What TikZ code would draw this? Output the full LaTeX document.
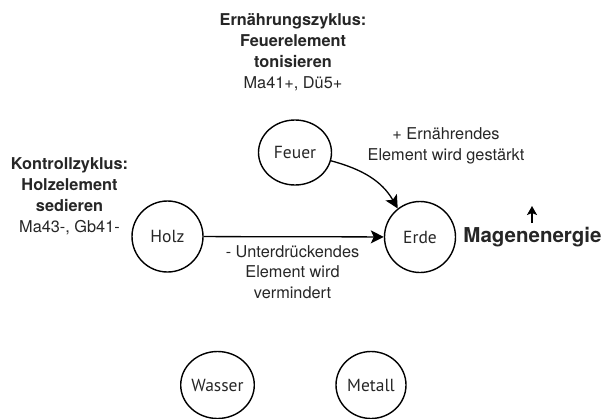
\documentclass[tikz,border=0pt]{standalone}
\usepackage{fontspec}
\setmainfont{TeX Gyre Heros}
\newfontfamily\myriadlike{PT Sans}
\usetikzlibrary{arrows.meta,shapes.geometric}
\begin{document}
\begin{tikzpicture}[x=1pt,y=-1pt,
  elem/.style={ellipse,draw,line width=1.4pt,minimum width=71pt,minimum height=71pt,inner sep=0pt,text=black!85,font=\myriadlike\fontsize{17.5}{20}\selectfont},
  lbl/.style={align=center,text=black!85,font=\fontsize{16.3}{21}\selectfont,inner sep=0pt},
  conn/.style={line width=1.3pt,-{Stealth[length=13pt,width=13pt,inset=3pt]}}]
\useasboundingbox (0,0) rectangle (605,418);
\node[elem,minimum width=73pt,minimum height=65pt] (feuer) at (295,152.5) {Feuer};
\node[elem] (erde) at (420,237) {Erde};
\node[elem] (holz) at (167.5,236.5) {Holz};
\node[elem,minimum width=70pt,minimum height=67pt] (wasser) at (217.5,385) {Wasser};
\node[elem,minimum width=70pt,minimum height=67pt] (metall) at (371,385) {Metall};
\draw[conn] (holz) -- (erde);
\draw[conn] (feuer.-13) to[out=-15,in=120] (erde.128);
\node[lbl] (ern) at (293,52) {\textbf{Ernährungszyklus:}\\\textbf{Feuerelement}\\\textbf{tonisieren}\\Ma41+, Dü5+};
\node[lbl] (kon) at (69.5,196) {\textbf{Kontrollzyklus:}\\\textbf{Holzelement}\\\textbf{sedieren}\\Ma43-, Gb41-};
\node[lbl] (plus) at (446,146) {+ Ernährendes\\Element wird gestärkt};
\node[lbl,font=\fontsize{16.3}{20.5}\selectfont] (minus) at (292.5,272) {- Unterdrückendes\\Element wird\\vermindert};
\node[text=black!85,font=\bfseries\fontsize{20.5}{23}\selectfont,inner sep=0pt] (mag) at (532.5,237.5) {Magenenergie};
\coordinate (mtop) at (532,206);
\coordinate (mbot) at (532,223);
\draw[line width=1.6pt,-{Stealth[length=9pt,width=10pt,inset=2pt]}] (mbot) -- (mtop);
\end{tikzpicture}
\end{document}
